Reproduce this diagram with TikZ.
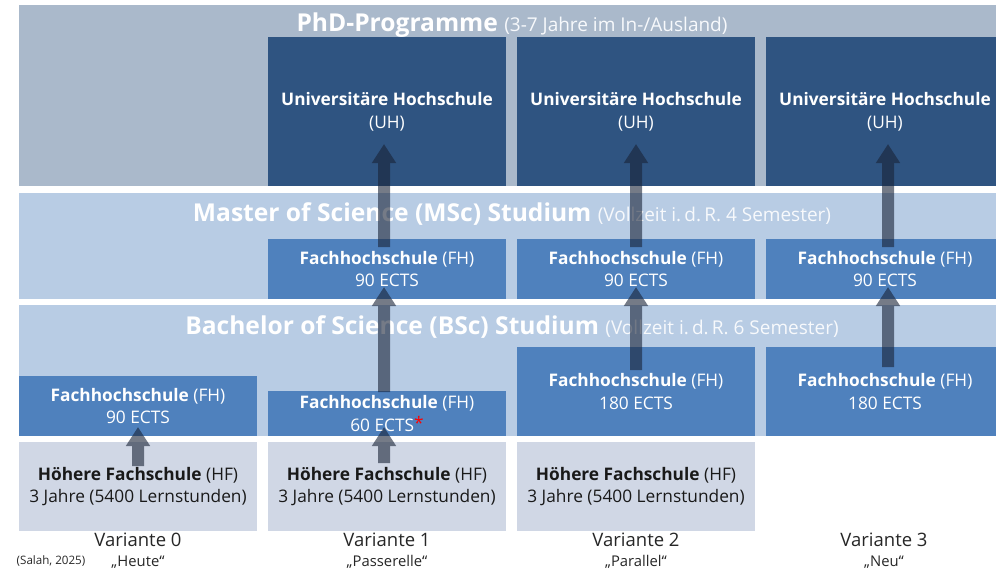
\documentclass[tikz,border=0pt]{standalone}
\usepackage{fontspec}
\setmainfont{Open Sans}
\usetikzlibrary{arrows.meta}
\definecolor{phdgray}{RGB}{170,185,203}
\definecolor{bandblue}{RGB}{184,204,228}
\definecolor{uhblue}{RGB}{47,84,129}
\definecolor{fhblue}{RGB}{79,129,189}
\definecolor{hfgray}{RGB}{208,215,229}
\definecolor{arrowc}{RGB}{25,35,55}
\begin{document}
\begin{tikzpicture}[x=1pt,y=-1pt]
		\tikzset{box/.style = {anchor=north west, inner sep=0pt, outer sep=0pt, align=center,
				font=\fontsize{17.3}{22.8}\selectfont}}
		\tikzset{band/.style = {box, fill=bandblue, minimum width=977pt}}
		\tikzset{uh/.style = {box, fill=uhblue, text=white, minimum width=238pt, minimum height=149pt}}
		\tikzset{fh/.style = {box, fill=fhblue, text=white, minimum width=238pt}}
		\tikzset{hf/.style = {box, fill=hfgray, text=black!90, minimum width=238pt, minimum height=89pt}}
		\tikzset{title/.style = {text=white, font=\fontsize{24.6}{28}\selectfont\bfseries}}
		\tikzset{label/.style = {text=black!85, font=\fontsize{18.5}{22}\selectfont}}
		\tikzset{edge/.style = {-{Triangle[width=23pt,length=19pt]}, line width=12pt, draw=arrowc}}
		\newcommand{\sub}[1]{{\fontsize{19}{22}\selectfont\mdseries\color{white!88!bandblue}#1}}
		
		\useasboundingbox (0,0) rectangle (996,570);
		\clip (0,0) rectangle (996,570);
		
		% bands
		\node[band, fill=phdgray, minimum height=181pt] (phd) at (19,  5) {};
		\node[band, minimum height=106pt]               (msc) at (19,193) {};
		\node[band, minimum height=131pt]               (bsc) at (19,305) {};
		
		\node[title] (phdt) at (512,25)  {PhD-Programme \sub{(3-7 Jahre im In-/Ausland)}};
		\node[title] (msct) at (512,214) {Master of Science (MSc) Studium \sub{(Vollzeit i.\,d.\,R. 4 Semester)}};
		\node[title] (bsct) at (512,327) {Bachelor of Science (BSc) Studium \sub{(Vollzeit i.\,d.\,R. 6 Semester)}};
		
		% UH
		\node[uh] (uh1) at (268,37) {\textbf{Universitäre Hochschule}\\(UH)};
		\node[uh] (uh2) at (517,37) {\textbf{Universitäre Hochschule}\\(UH)};
		\node[uh] (uh3) at (766,37) {\textbf{Universitäre Hochschule}\\(UH)};
		
		% FH master
		\node[fh, minimum height=60pt] (fm1) at (268,239) {\textbf{Fachhochschule} (FH)\\90 ECTS};
		\node[fh, minimum height=60pt] (fm2) at (517,239) {\textbf{Fachhochschule} (FH)\\90 ECTS};
		\node[fh, minimum height=60pt] (fm3) at (766,239) {\textbf{Fachhochschule} (FH)\\90 ECTS};
		
		% FH bachelor
		\node[fh, minimum height=60pt] (fb0) at ( 19,376) {\textbf{Fachhochschule} (FH)\\90 ECTS};
		\node[fh, minimum height=45pt] (fb1) at (268,391) {\textbf{Fachhochschule} (FH)\\60 ECTS\raisebox{2pt}{\textcolor{red}{*}}};
		\node[fh, minimum height=89pt] (fb2) at (517,347) {\textbf{Fachhochschule} (FH)\\180 ECTS};
		\node[fh, minimum height=89pt] (fb3) at (766,347) {\textbf{Fachhochschule} (FH)\\180 ECTS};
		
		% HF
		\node[hf] (hf0) at ( 19,442) {\textbf{Höhere Fachschule} (HF)\\3 Jahre (5400 Lernstunden)};
		\node[hf] (hf1) at (268,442) {\textbf{Höhere Fachschule} (HF)\\3 Jahre (5400 Lernstunden)};
		\node[hf] (hf2) at (517,442) {\textbf{Höhere Fachschule} (HF)\\3 Jahre (5400 Lernstunden)};
		
		% Varianten
		\node[label] (v0) at (138,540) {Variante 0};
		\node[label] (v1) at (387,540) {Variante 1};
		\node[label] (v2) at (636,540) {Variante 2};
		\node[label] (v3) at (884,540) {Variante 3};
		\node[label, font=\fontsize{14.8}{17}\selectfont] (n0) at (138,562) {„Heute“};
		\node[label, font=\fontsize{14.8}{17}\selectfont] (n1) at (387,562) {„Passerelle“};
		\node[label, font=\fontsize{14.8}{17}\selectfont] (n2) at (636,562) {„Parallel“};
		\node[label, font=\fontsize{14.8}{17}\selectfont] (n3) at (884,562) {„Neu“};
		\node[label, font=\fontsize{11.6}{13}\selectfont] (src) at (51,561) {(Salah, 2025)};
		
		% Pfeile
		\coordinate (a0) at (138,466); \coordinate (b0) at (138,427);
		\coordinate (a1) at (384,463); \coordinate (b1) at (384,427);
		\coordinate (c1) at (384,392); \coordinate (d1) at (384,287);
		\coordinate (e1) at (384,247); \coordinate (f1) at (384,144);
		\coordinate (c2) at (636,370); \coordinate (d2) at (636,287);
		\coordinate (e2) at (636,247); \coordinate (f2) at (636,144);
		\coordinate (c3) at (888,367); \coordinate (d3) at (888,287);
		\coordinate (e3) at (888,247); \coordinate (f3) at (888,144);
		
		\begin{scope}[opacity=0.6, transparency group]
		\draw[edge] (a0) to (b0);
		\draw[edge] (a1) to (b1);
		\draw[edge] (c1) to (d1);
		\draw[edge] (e1) to (f1);
		\draw[edge] (c2) to (d2);
		\draw[edge] (e2) to (f2);
		\draw[edge] (c3) to (d3);
		\draw[edge] (e3) to (f3);
		\end{scope}
\end{tikzpicture}
\end{document}
